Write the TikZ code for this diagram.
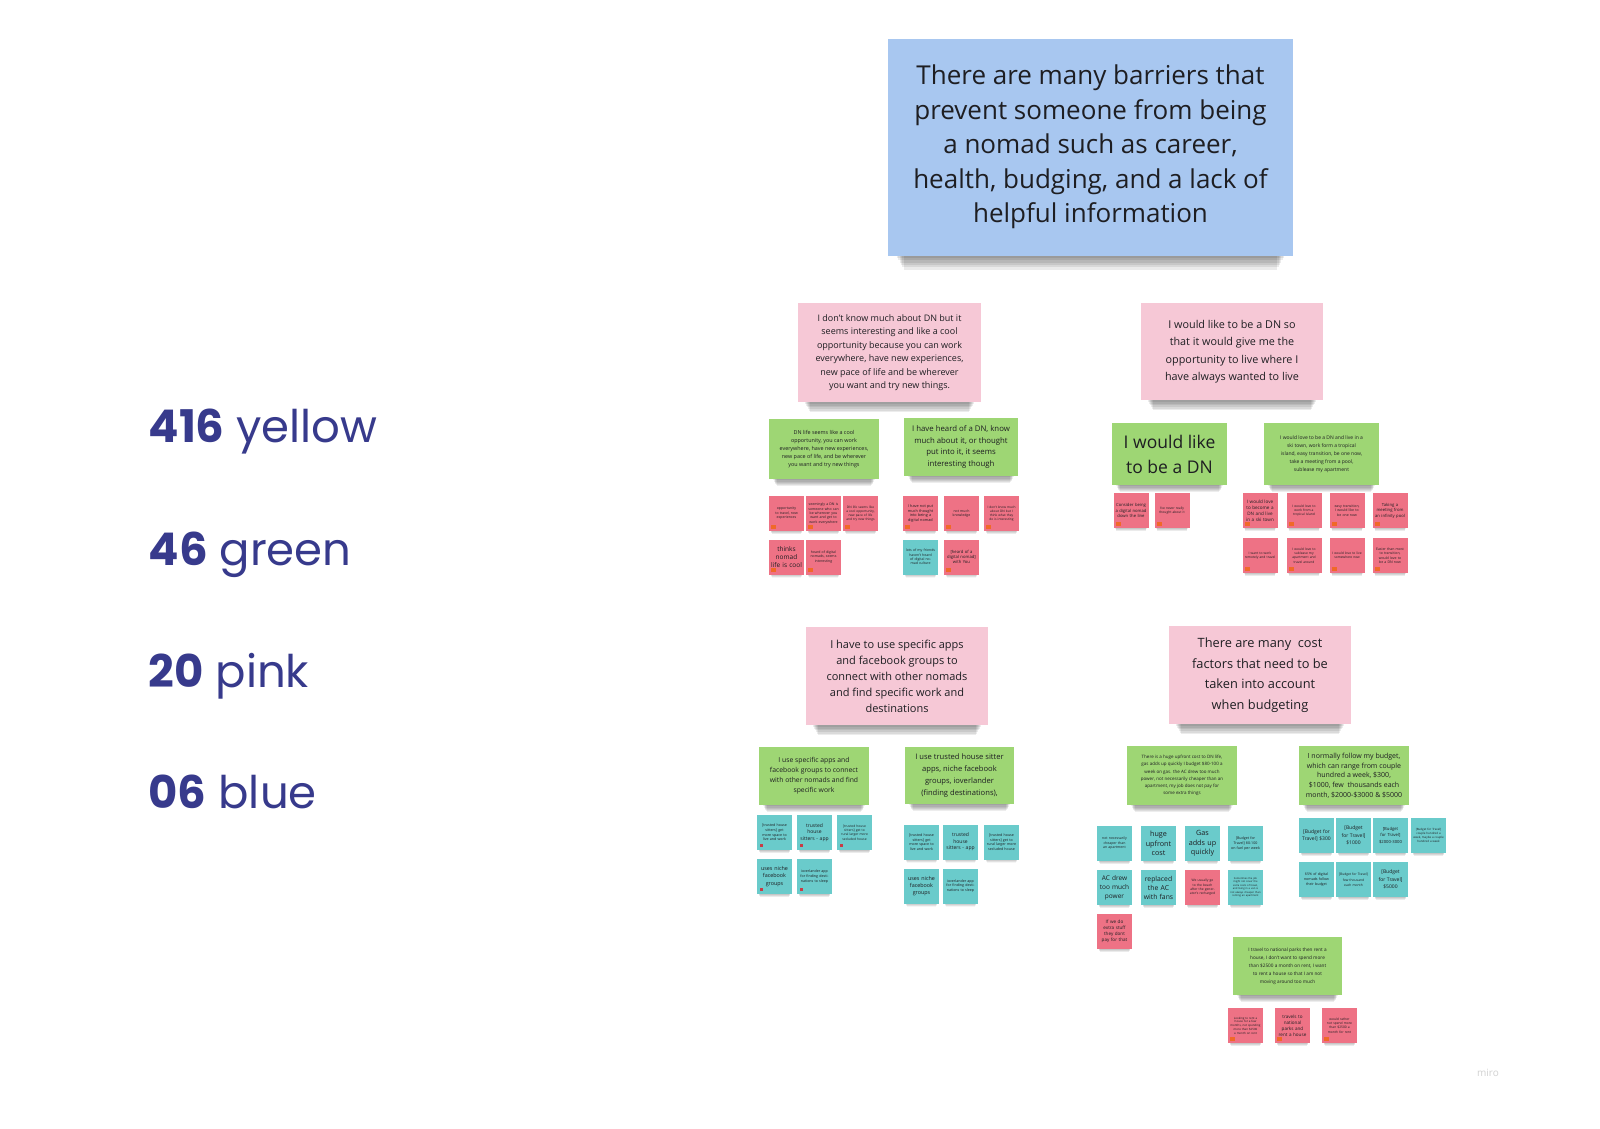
\documentclass[tikz,border=0pt]{standalone}
\usepackage{fontspec}
\setmainfont{Open Sans}
\newfontfamily\popfont{Poppins}
\usetikzlibrary{calc}
\pgfdeclarelayer{paper}
\pgfdeclarelayer{shadow}
\pgfsetlayers{paper,shadow,main}
\definecolor{bluenote}{RGB}{168,199,240}
\definecolor{pinknote}{RGB}{246,200,214}
\definecolor{greennote}{RGB}{158,214,116}
\definecolor{rednote}{RGB}{238,114,133}
\definecolor{tealnote}{RGB}{106,203,203}
\definecolor{ink}{RGB}{30,30,34}
\definecolor{indigo}{RGB}{55,58,140}
\definecolor{tagc}{RGB}{240,105,40}
\definecolor{dotc}{RGB}{200,60,70}
\newcommand\fsz[2]{\fontsize{#1pt}{#2pt}\selectfont}
\newcommand\rnote[5]{\node[smallnote,fill=rednote,font=#4] (#1) at (#2,#3) {#5};
  \fill[tagc] ([xshift=2.5pt,yshift=2.5pt]#1.south west) rectangle ++(5pt,4pt);}
\newcommand\tnote[5]{\node[smallnote,fill=tealnote,font=#4] (#1) at (#2,#3) {#5};}
\newcommand\tdnote[5]{\node[smallnote,fill=tealnote,font=#4] (#1) at (#2,#3) {#5};
  \fill[dotc] ([xshift=3pt,yshift=3pt]#1.south west) rectangle ++(3.5pt,3.5pt);}
% soft shadow under a note: node, inset, depth, opacity per layer
\newcommand\nshadow[4]{\foreach \k in {1,...,6}{%
  \fill[black,opacity=#4] ($(#1.south west)+({#2+\k*#2/6},-3)$) rectangle ($(#1.south east)+({-#2-\k*#2/6},{#3*\k/6})$);}}
\begin{document}
\begin{tikzpicture}[x=1pt,y=-1pt,
  note/.style={rectangle, inner sep=0pt, align=center, text=ink},
  smallnote/.style={note, minimum width=35pt, minimum height=35pt, text width=31pt},
  legend/.style={anchor=base west, text=indigo, font=\popfont\fsz{45}{50}}
]
\useasboundingbox (0,0) rectangle (1600,1128);
\begin{pgfonlayer}{paper}
\fill[white] (0,0) rectangle (1600,1128);
\end{pgfonlayer}

% legend
\node[legend] (l1) at (145,442) {\textbf{416} yellow};
\node[legend] (l2) at (145,565) {\textbf{46} green};
\node[legend] (l3) at (145,687) {\textbf{20} pink};
\node[legend] (l4) at (145,808) {\textbf{06} blue};

% main blue note
\node[note, fill=bluenote, minimum width=405pt, minimum height=217pt, font=\fsz{26}{34.5}] (main) at (1090.5,147)
{There are many barriers that\\prevent someone from being\\a nomad such as career,\\health, budging, and a lack of\\helpful information};

% ---------- cluster 1
\node[note, fill=pinknote, minimum width=183pt, minimum height=99pt, font=\fsz{9}{13.5}] (p1) at (889.5,352.5)
{I don't know much about DN but it\\seems interesting and like a cool\\opportunity because you can work\\everywhere, have new experiences,\\new pace of life and be wherever\\you want and try new things.};
\node[note, fill=greennote, minimum width=110pt, minimum height=60pt, font=\fsz{5.4}{8.2}] (g1a) at (824,449)
{DN life seems like a cool\\opportunity, you can work\\everywhere, have new experiences,\\new pace of life, and be wherever\\you want and try new things};
\node[note, fill=greennote, minimum width=114pt, minimum height=58pt, font=\fsz{7.8}{11.7}] (g1b) at (961,447)
{I have heard of a DN, know\\much about it, or thought\\put into it, it seems\\interesting though};

\rnote{s1}{786.5}{513.5}{\fsz{3.5}{4.4}}{opportunity to travel, new experiences}
\rnote{s2}{823.5}{513.5}{\fsz{3.5}{4.4}}{seemingly a DN is someone who can be wherever you want and get to work everywhere}
\rnote{s3}{860.5}{513.5}{\fsz{3.2}{4.2}}{DN life seems like a cool opportunity, new pace of life and try new things}
\rnote{s4}{786.5}{557}{\fsz{6.5}{8}}{thinks nomad life is cool}
\rnote{s5}{823.5}{557}{\fsz{3.5}{4.4}}{heard of digital nomads, seems interesting}
\rnote{s6}{920.5}{513.5}{\fsz{3.8}{4.8}}{I have not put much thought into being a digital nomad}
\rnote{s7}{961.5}{513.5}{\fsz{3.5}{4.4}}{not much knowledge}
\rnote{s8}{1001.5}{513.5}{\fsz{3.2}{4.2}}{I don't know much about DN but I think what they do is interesting}
\tnote{s9}{920.5}{557}{\fsz{3.5}{4.4}}{lots of my friends haven't heard of digital nomad culture}
\rnote{s10}{961.5}{557}{\fsz{4.2}{5.4}}{[heard of a digital nomad] with You}

% ---------- cluster 2
\node[note, fill=pinknote, minimum width=182pt, minimum height=97pt, font=\fsz{10.8}{17.5}] (p2) at (1232,351.5)
{I would like to be a DN so\\that it would give me the\\opportunity to live where I\\have always wanted to live};
\node[note, fill=greennote, minimum width=115pt, minimum height=62pt, font=\fsz{17.5}{25}] (g2a) at (1169.5,454)
{I would like\\to be a DN};
\node[note, fill=greennote, minimum width=115pt, minimum height=62pt, font=\fsz{5}{8.1}] (g2b) at (1321.5,454)
{I would love to be a DN and live in a\\ski town, work form a tropical\\island, easy transition, be one now,\\take a meeting from a pool,\\sublease my apartment};

\rnote{t1}{1131}{510.5}{\fsz{4.2}{5.4}}{Consider being a digital nomad down the line}
\rnote{t2}{1172}{510.5}{\fsz{3.3}{4.3}}{I've never really thought about it}
\rnote{t3}{1260}{510.5}{\fsz{4.6}{6}}{I would love to become a DN and live in a ski town}
\rnote{t4}{1304}{510.5}{\fsz{3.3}{4.3}}{I would love to work from a tropical island}
\rnote{t5}{1347}{510.5}{\fsz{3.5}{4.5}}{easy transition, I would like to be one now}
\rnote{t6}{1390}{510.5}{\fsz{4.2}{5.4}}{Taking a meeting from an infinity pool}
\rnote{t7}{1260}{555.5}{\fsz{3.3}{4.3}}{I want to work remotely and travel}
\rnote{t8}{1304}{555.5}{\fsz{3.3}{4.3}}{I would love to sublease my apartment and travel around}
\rnote{t9}{1347}{555.5}{\fsz{3.3}{4.3}}{I would love to live somewhere new}
\rnote{t10}{1390}{555.5}{\fsz{3.5}{4.5}}{Easier than most to transition, would love to be a DN now}

% ---------- cluster 3
\node[note, fill=pinknote, minimum width=182pt, minimum height=98pt, font=\fsz{11}{16}] (p3) at (897,676)
{I have to use specific apps\\and facebook groups to\\connect with other nomads\\and find specific work and\\destinations};
\node[note, fill=greennote, minimum width=110pt, minimum height=58pt, font=\fsz{6.8}{10}] (g3a) at (814,776)
{I use specific apps and\\facebook groups to connect\\with other nomads and find\\specific work};
\node[note, fill=greennote, minimum width=109pt, minimum height=57pt, font=\fsz{7.6}{12}] (g3b) at (959.5,775.5)
{I use trusted house sitter\\apps, niche facebook\\groups, ioverlander\\(finding destinations),};

\tdnote{u1}{774.5}{832.5}{\fsz{3.6}{4.6}}{[trusted house sitters] get more space to live and work}
\tdnote{u2}{814.5}{832.5}{\fsz{5}{6.5}}{trusted house sitters - app}
\tdnote{u3}{854.5}{832.5}{\fsz{3.3}{4.3}}{[trusted house sitters] get to rural larger more secluded house}
\tdnote{u4}{774.5}{876.5}{\fsz{5.4}{7.2}}{uses niche facebook groups}
\tdnote{u5}{814.5}{876.5}{\fsz{3.6}{4.6}}{ioverlander app for finding destinations to sleep}
\tnote{u6}{921.5}{842}{\fsz{3.6}{4.6}}{[trusted house sitters] get more space to live and work}
\tnote{u7}{960.5}{842}{\fsz{5}{6.5}}{trusted house sitters - app}
\tnote{u8}{1001.5}{842}{\fsz{3.6}{4.6}}{[trusted house sitters] get to rural larger more secluded house}
\tnote{u9}{921.5}{886}{\fsz{5.4}{7.2}}{uses niche facebook groups}
\tnote{u10}{960.5}{886}{\fsz{3.6}{4.6}}{ioverlander app for finding destinations to sleep}

% ---------- cluster 4
\node[note, fill=pinknote, minimum width=182pt, minimum height=98pt, font=\fsz{12.8}{20.5}] (p4) at (1260,675)
{There are many\ \ cost\\factors that need to be\\taken into account\\when budgeting};
\node[note, fill=greennote, minimum width=110pt, minimum height=59pt, font=\fsz{4.5}{7.2}] (g4a) at (1182,775.5)
{There is a huge upfront cost to DN life,\\gas adds up quickly I budget \$80-100 a\\week on gas. the AC drew too much\\power, not necessarily cheaper than an\\apartment, my job does not pay for\\some extra things};
\node[note, fill=greennote, minimum width=110pt, minimum height=59pt, font=\fsz{7}{9.7}] (g4b) at (1354,775.5)
{I normally follow my budget,\\which can range from couple\\hundred a week, \$300,\\\$1000, few\ \ thousands each\\month, \$2000-\$3000 \& \$5000};
\node[note, fill=greennote, minimum width=109pt, minimum height=58pt, font=\fsz{4.7}{8}] (g4c) at (1287.5,966)
{I travel to national parks then rent a\\house, I don't want to spend more\\than \$2500 a month on rent, I want\\to rent a house so that I am not\\moving around too much};

\tnote{v1}{1114.5}{843.5}{\fsz{3.5}{4.5}}{not necessarily cheaper than an apartment}
\tnote{v2}{1158.5}{843.5}{\fsz{7.2}{9.5}}{huge upfront cost}
\tnote{v3}{1202.5}{843.5}{\fsz{7.2}{9.5}}{Gas adds up quickly}
\tnote{v4}{1245.5}{843.5}{\fsz{3.6}{4.8}}{[Budget for Travel] 80-100 on fuel per week}
\tnote{v5}{1114.5}{887.5}{\fsz{6.5}{9}}{AC drew too much power}
\tnote{v6}{1158.5}{887.5}{\fsz{6.8}{9}}{replaced the AC with fans}
\node[smallnote, fill=rednote, font=\fsz{3.3}{4.3}] (v7) at (1202.5,887.5) {We usually go to the beach after the generator's recharged};
\tnote{v8}{1245.5}{887.5}{\fsz{2.6}{3.5}}{Sometimes the job might not cover the extra costs of travel, and living in a van is not always cheaper than renting an apartment}
\node[smallnote, fill=rednote, font=\fsz{4.6}{6}] (v9) at (1114.5,931.5) {If we do extra stuff they dont pay for that};

\tnote{w1}{1316.5}{835.5}{\fsz{5}{7.5}}{[Budget for Travel] \$300}
\tnote{w2}{1353.5}{835.5}{\fsz{5}{7.5}}{[Budget for Travel] \$1000}
\tnote{w3}{1390.5}{835.5}{\fsz{4.2}{6.2}}{[Budget for Travel] \$2000-3000}
\tnote{w4}{1428.5}{835.5}{\fsz{2.9}{3.8}}{[Budget for Travel] couple hundred a week, maybe a couple hundred a week}
\tnote{w5}{1316.5}{879.5}{\fsz{3.6}{4.8}}{65\% of digital nomads follow their budget}
\tnote{w6}{1353.5}{879.5}{\fsz{3.3}{4.6}}{[Budget for Travel]\\[2pt] few thousand each month}
\tnote{w7}{1390.5}{879.5}{\fsz{5}{7.5}}{[Budget for Travel] \$5000}

\rnote{x1}{1245.5}{1025.5}{\fsz{2.9}{3.8}}{Looking to rent a house for a few months, not spending more than \$2500 a month on rent}
\rnote{x2}{1292.5}{1025.5}{\fsz{4.6}{6}}{travels to national parks and rent a house}
\rnote{x3}{1339.5}{1025.5}{\fsz{3.3}{4.3}}{would rather not spend more than \$2500 a month for rent}

% watermark
\node[text=black!18, font=\fsz{10}{12}] (miro) at (1488,1073) {miro};

% shadows
\begin{pgfonlayer}{shadow}
\nshadow{main}{8}{14}{0.08}
\foreach \n in {p1,p2,p3,p4} {\nshadow{\n}{6}{10}{0.075}}
\foreach \n in {g1a,g1b,g2a,g2b,g3a,g3b,g4a,g4b,g4c} {\nshadow{\n}{4}{7}{0.07}}
\foreach \n in {s1,s2,s3,s4,s5,s6,s7,s8,s9,s10,t1,t2,t3,t4,t5,t6,t7,t8,t9,t10,
  u1,u2,u3,u4,u5,u6,u7,u8,u9,u10,v1,v2,v3,v4,v5,v6,v7,v8,v9,w1,w2,w3,w4,w5,w6,w7,x1,x2,x3}
  {\nshadow{\n}{1.5}{3}{0.04}}
\end{pgfonlayer}
\end{tikzpicture}
\end{document}
